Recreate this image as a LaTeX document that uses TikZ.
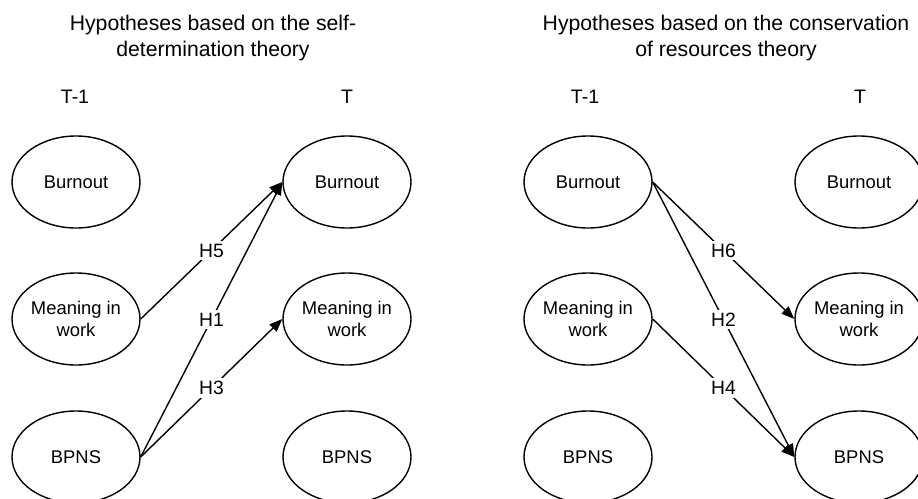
\documentclass[tikz,border=0pt]{standalone}
\usepackage{fontspec}
\setmainfont{Liberation Sans}
\usetikzlibrary{shapes.geometric,arrows.meta}
\begin{document}
\begin{tikzpicture}[x=1pt,y=-1pt,
 var/.style={ellipse,draw,line width=1.4pt,minimum width=128pt,minimum height=92pt,inner sep=0pt,align=center,font=\fontsize{18.4}{22}\selectfont},
 hyp/.style={-{Triangle[length=13pt,width=10pt]},line width=1.4pt},
 hlab/.style={fill=white,inner sep=3pt,font=\fontsize{19.3}{23}\selectfont},
 title/.style={align=center,inner sep=0pt,font=\fontsize{21.2}{26}\selectfont},
 time/.style={anchor=base,inner sep=0pt,font=\fontsize{19.5}{23}\selectfont}]
\useasboundingbox (0,0) rectangle (918,498);
\clip (0,0) rectangle (918,498);
% titles
\node[title] (t1) at (213,38.5) {Hypotheses based on the self-\\determination theory};
\node[title] (t2) at (726,38.5) {Hypotheses based on the conservation\\of resources theory};
% time labels
\node[time] (l1) at (75,103) {T-1};
\node[time] (l2) at (347,103) {T};
\node[time] (l3) at (585,103) {T-1};
\node[time] (l4) at (860,103) {T};
% left panel
\node[var] (lb0) at (76,182) {Burnout};
\node[var] (lm0) at (76,319) {Meaning in\\work};
\node[var] (lp0) at (76,457) {BPNS};
\node[var] (lb1) at (347,182) {Burnout};
\node[var] (lm1) at (347,319) {Meaning in\\work};
\node[var] (lp1) at (347,457) {BPNS};
% right panel
\node[var] (rb0) at (588,182) {Burnout};
\node[var] (rm0) at (588,319) {Meaning in\\work};
\node[var] (rp0) at (588,457) {BPNS};
\node[var] (rb1) at (859,182) {Burnout};
\node[var] (rm1) at (859,319) {Meaning in\\work};
\node[var] (rp1) at (859,457) {BPNS};
% hypotheses left
\draw[hyp] (lm0.east) -- node[hlab] {H5} (lb1.west);
\draw[hyp] (lp0.east) -- node[hlab] {H1} (lb1.west);
\draw[hyp] (lp0.east) -- node[hlab] {H3} (lm1.west);
% hypotheses right
\draw[hyp] (rb0.east) -- node[hlab] {H6} (rm1.west);
\draw[hyp] (rb0.east) -- node[hlab] {H2} (rp1.west);
\draw[hyp] (rm0.east) -- node[hlab] {H4} (rp1.west);
\end{tikzpicture}
\end{document}
